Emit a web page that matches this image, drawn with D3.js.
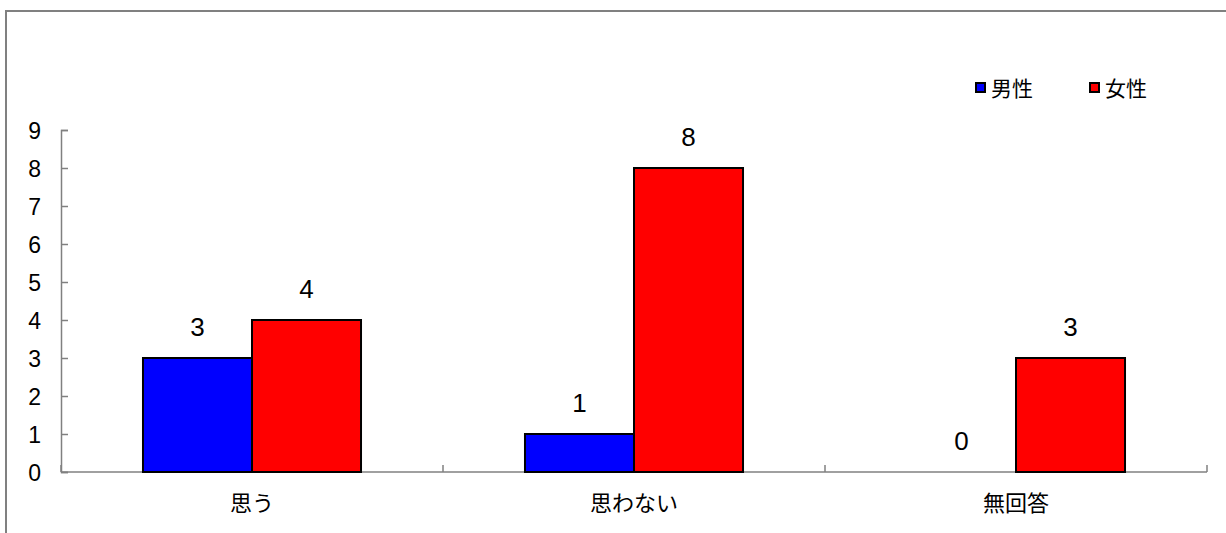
<!DOCTYPE html>
<html><head><meta charset="utf-8">
<script src="https://cdn.jsdelivr.net/npm/d3@7"></script>
<style>body{margin:0;background:#fff}svg{display:block}text{font-family:"Liberation Sans","Noto Sans CJK JP",sans-serif;fill:#000}</style>
</head><body>
<script>
const categories = ["思う", "思わない", "無回答"];
const seriesNames = ["男性", "女性"];
const male = [3, 1, 0];
const female = [4, 8, 3];
const yTicks = [0,1,2,3,4,5,6,7,8,9];
const colors = ["#0000ff", "#ff0000"];

const W = 1226, H = 533;
const svg = d3.select("body").append("svg").attr("width", W).attr("height", H);

// outer frame
svg.append("rect").attr("x", 6).attr("y", 11).attr("width", W + 20).attr("height", H + 20)
  .attr("fill", "none").attr("stroke", "#808080").attr("stroke-width", 2);

const pLeft = 61, pRight = 1207, pTop = 130, pBottom = 472;
const x = d3.scaleBand().domain(categories).range([pLeft, pRight]).paddingInner(0).paddingOuter(0);
const inner = d3.scaleBand().domain(seriesNames).range([0, x.bandwidth()]).paddingInner(0).paddingOuter(0.752);
const y = d3.scaleLinear().domain([0, 9]).range([pBottom, pTop]);

// axes (ticks inside)
const yAxis = d3.axisLeft(y).tickValues(yTicks).tickSize(-7).tickPadding(20).tickFormat(d3.format("d"));
const gy = svg.append("g").attr("transform", `translate(${pLeft},0)`).call(yAxis);
gy.select(".domain").attr("stroke", "#808080").attr("stroke-width", 1.5);
gy.selectAll(".tick line").attr("stroke", "#808080").attr("stroke-width", 1.5);
gy.selectAll(".tick text").attr("font-size", 23).attr("font-family", "'Liberation Sans',sans-serif").attr("dy", "0.36em");

const xAxis = d3.axisBottom(x).tickSize(0).tickPadding(31);
const gx = svg.append("g").attr("transform", `translate(0,${pBottom})`).call(xAxis);
gx.select(".domain").attr("stroke", "#808080").attr("stroke-width", 1.5).attr("d", `M${pLeft},0H${pRight}`);
gx.selectAll(".tick text").attr("font-size", 22).attr("font-family", "'Noto Sans CJK JP',sans-serif").attr("dy", "0.38em");
// category boundary ticks
const bounds = [pLeft, ...categories.map(c => x(c) + x.bandwidth())];
gx.selectAll(".bt").data(bounds).enter().append("line")
  .attr("x1", d => d).attr("x2", d => d).attr("y1", 0).attr("y2", -7)
  .attr("stroke", "#808080").attr("stroke-width", 1.5);

const data = categories.map((c, i) => ({c, vals: [male[i], female[i]]}));
const groups = svg.append("g").selectAll("g").data(data).enter().append("g")
  .attr("transform", d => `translate(${x(d.c)},0)`);
groups.selectAll("rect").data(d => d.vals.map((v, j) => ({v, s: seriesNames[j], j})))
  .enter().append("rect")
  .filter(d => d.v > 0)
  .attr("x", d => inner(d.s)).attr("width", inner.bandwidth())
  .attr("y", d => y(d.v)).attr("height", d => pBottom - y(d.v))
  .attr("fill", d => colors[d.j]).attr("stroke", "#000").attr("stroke-width", 2);
groups.selectAll("text.v").data(d => d.vals.map((v, j) => ({v, s: seriesNames[j], j})))
  .enter().append("text").attr("class", "v")
  .attr("x", d => inner(d.s) + inner.bandwidth() / 2)
  .attr("y", d => y(d.v) - 31)
  .attr("dy", "0.36em")
  .attr("text-anchor", "middle").attr("font-size", 26).attr("font-family", "'Liberation Sans',sans-serif")
  .text(d => d.v);

// legend
const legend = svg.append("g");
const lx = [976, 1090];
seriesNames.forEach((s, i) => {
  legend.append("rect").attr("x", lx[i]).attr("y", 83).attr("width", 9).attr("height", 9)
    .attr("fill", colors[i]).attr("stroke", "#000").attr("stroke-width", 2);
  legend.append("text").attr("x", lx[i] + 15).attr("y", 88).attr("dy", "0.38em")
    .attr("font-size", 21).attr("font-family", "'Noto Sans CJK JP',sans-serif").text(s);
});
</script>
</body></html>
